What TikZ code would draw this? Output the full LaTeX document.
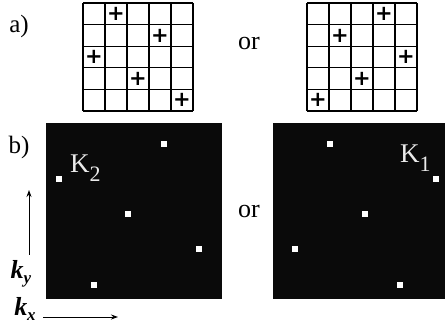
\documentclass[tikz,border=0pt]{standalone}
\usepackage{fontspec}
\setmainfont{Liberation Serif}
\newfontfamily\plusfont{DejaVu Sans}
\usepackage{tikz}
\usetikzlibrary{positioning,arrows.meta}

\begin{document}
\begin{tikzpicture}[
  x=1pt,y=-1pt,
  every node/.style={inner sep=0pt},
  tag/.style={font=\fontsize{25}{25}\selectfont},
  ortext/.style={font=\fontsize{26}{26}\selectfont},
  plus/.style={font=\plusfont\fontsize{21}{21}\selectfont\bfseries},
  cell/.style={line width=1.3pt},
  panel/.style={fill=black!96,minimum size=176pt},
  spot/.style={fill=white,minimum size=6pt},
  klab/.style={text=white!92!black,font=\fontsize{27}{27}\selectfont,anchor=base west},
  axlab/.style={font=\fontsize{26}{26}\selectfont\bfseries\itshape},
  axis/.style={-{Stealth[length=7pt,width=5pt]},line width=0.9pt}
]
  \useasboundingbox (0,0) rectangle (445,334);

  % a) the two 5x5 grids
  \node[tag] (la) at (19,26) {a)};
  \node[ortext] (ora) at (249,44) {or};
  \foreach \i in {0,...,5} {
    \draw[cell] ({83+22*\i},3) -- ({83+22*\i},111);
    \draw[cell] (83,{3+21.6*\i}) -- (193,{3+21.6*\i});
    \draw[cell] ({307+22*\i},3) -- ({307+22*\i},111);
    \draw[cell] (307,{3+21.6*\i}) -- (417,{3+21.6*\i});
  }
  \foreach \c [count=\r from 0] in {1,3,0,2,4}
    \node[plus] (pa\r) at ({94+22*\c},{14+21.6*\r}) {+};
  \foreach \c [count=\r from 0] in {3,1,4,2,0}
    \node[plus] (pb\r) at ({318+22*\c},{14+21.6*\r}) {+};

  % b) the two k-space panels
  \node[tag] (lb) at (19,147) {b)};
  \node[panel] (k2) at (134,211) {};
  \node[panel] (k1) at (361,211) {};
  \node[ortext] (orb) at (249,212) {or};

  \node[spot] (s21) at (59,179) {};
  \node[spot] (s22) at (164,144) {};
  \node[spot] (s23) at (128,214) {};
  \node[spot] (s24) at (199,249) {};
  \node[spot] (s25) at (94,285) {};
  \node[klab] (n2) at (70,173) {K\lower9pt\hbox{\fontsize{22}{22}\selectfont 2}};

  \node[spot] (s11) at (330,144) {};
  \node[spot] (s12) at (436,179) {};
  \node[spot] (s13) at (365,214) {};
  \node[spot] (s14) at (295,249) {};
  \node[spot] (s15) at (400,285) {};
  \node[klab] (n1) at (400,163) {K\lower9pt\hbox{\fontsize{22}{22}\selectfont 1}};

  % axes
  \node[axlab] (ky) at (21,274) {k\lower5pt\hbox{\fontsize{17}{17}\selectfont y}};
  \node[axlab] (kx) at (25,309) {k\lower5pt\hbox{\fontsize{17}{17}\selectfont x}};
  \coordinate (kyfoot) at (29,255);
  \coordinate (kyhead) at (29,190);
  \coordinate (kxfoot) at (43,317);
  \coordinate (kxhead) at (118,317);
  \draw[axis] (kyfoot) -- (kyhead);
  \draw[axis] (kxfoot) -- (kxhead);
\end{tikzpicture}
\end{document}
